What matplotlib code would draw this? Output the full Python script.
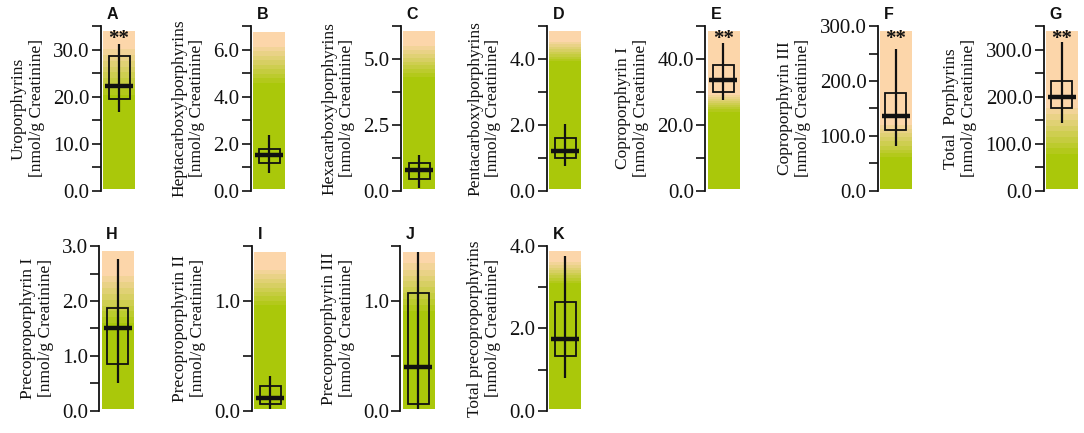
import matplotlib
matplotlib.use("Agg")
import matplotlib.pyplot as plt
import numpy as np
from matplotlib.colors import LinearSegmentedColormap
from matplotlib.patches import Rectangle
from matplotlib.ticker import MultipleLocator, FormatStrFormatter

plt.rcParams['font.family'] = ['Liberation Serif', 'DejaVu Serif']

# panel data
letters = ['A', 'B', 'C', 'D', 'E', 'F', 'G', 'H', 'I', 'J', 'K']
ylabels = ['Uroporphyrins', 'Heptacarboxylporphyrins', 'Hexacarboxylporphyrins',
           'Pentacarboxylporphyrins', 'Coproporphyrin I', 'Coproporphyrin III',
           'Total  Porphyrins', 'Precoproporphyrin I', 'Precoproporphyrin II',
           'Precoproporphyrin III', 'Total precoproporphyrins']
unit = '[nmol/g Creatinine]'
ymax = [35, 7, 6.25, 5, 50, 300, 350, 3, 1.5, 1.5, 4]
major_step = [10, 2, 2.5, 2, 20, 100, 100, 1, 1, 1, 2]

# box statistics
whislo = [16.7, 0.77, 0.09, 0.76, 27.6, 82, 144, 0.50, 0.02, 0.02, 0.80]
q1 = [19.6, 1.17, 0.45, 0.99, 29.9, 111, 177, 0.845, 0.058, 0.058, 1.33]
med = [22.3, 1.51, 0.79, 1.21, 33.7, 137, 198.5, 1.50, 0.113, 0.40, 1.74]
q3 = [28.7, 1.76, 1.05, 1.60, 38.3, 179, 234, 1.875, 0.227, 1.073, 2.65]
whishi = [31.2, 2.37, 1.34, 2.02, 44.9, 259, 316, 2.76, 0.315, 1.445, 3.76]
signif = ['**', '', '', '', '**', '**', '**', '', '', '', '']

# reference range bar: top, end of plain green, start of plain orange
band_top = [33.9, 6.75, 6.05, 4.83, 48.3, 290, 338, 2.90, 1.445, 1.445, 3.86]
green_to = [19.0, 4.38, 4.14, 3.83, 23.1, 50, 62, 1.47, 0.915, 0.85, 3.01]
orange_from = [30.0, 6.14, 5.47, 4.5, 28.7, 117, 172, 2.44, 1.28, 1.34, 3.58]

# layout in pixels (left spine x, bottom y from top of image)
W, H = 1084, 433
spine_x = [100.7, 250.7, 400.7, 546.7, 705, 877.5, 1043.5, 99.3, 251.7, 400, 546.7]
row_bottom = [190.7] * 7 + [410.7] * 4
ax_h = 164.5
ax_w = 34

cmap = LinearSegmentedColormap.from_list('ref', ['#aac80a', '#fcd6aa'])
ink = '#111111'

fig = plt.figure(figsize=(W / 100, H / 100), dpi=100)

for i in range(len(letters)):
    ax = fig.add_axes([spine_x[i] / W, (H - row_bottom[i]) / H, ax_w / W, ax_h / H])
    ax.set_xlim(0, 1)
    ax.set_ylim(0, ymax[i])

    # stepped gradient bar
    ys = np.linspace(0, band_top[i], 400)
    t = np.clip((ys - green_to[i]) / (orange_from[i] - green_to[i]), 0, 1)
    t = np.floor(t * 9) / 9
    ax.imshow(t[:, None], cmap=cmap, vmin=0, vmax=1, origin='lower', aspect='auto',
              extent=(0.08, 1.0, 0.01 * ymax[i], band_top[i]),
              interpolation='nearest', zorder=0)

    # box
    c = 0.54
    ax.vlines(c, whislo[i], whishi[i], color=ink, lw=1.6, zorder=3)
    ax.add_patch(Rectangle((c - 0.31, q1[i]), 0.62, q3[i] - q1[i], fill=False,
                           edgecolor=ink, lw=1.3, zorder=3))
    ax.hlines(med[i], c - 0.41, c + 0.41, color=ink, lw=3.2, zorder=4)

    if signif[i]:
        ax.text(c, 0.985, signif[i], transform=ax.transAxes, ha='center', va='top',
                fontsize=15, fontweight='bold', color=ink, zorder=5)

    for s in ['top', 'right', 'bottom']:
        ax.spines[s].set_visible(False)
    ax.spines['left'].set_linewidth(1.3)
    ax.spines['left'].set_color(ink)
    ax.set_xticks([])
    ax.yaxis.set_major_locator(MultipleLocator(major_step[i]))
    ax.yaxis.set_minor_locator(MultipleLocator(major_step[i] / 2))
    ax.yaxis.set_major_formatter(FormatStrFormatter('%.1f'))
    ax.tick_params(axis='y', which='both', length=6.5, width=1.2, color=ink,
                   labelsize=15, pad=1.5, labelcolor=ink)
    ax.set_ylabel(ylabels[i] + '\n' + unit, fontsize=12.5, labelpad=6,
                  linespacing=1.15, color=ink)

    ax.annotate(letters[i], xy=(0.18, 1), xycoords='axes fraction', xytext=(0, 8.5),
                textcoords='offset points', ha='left', va='center',
                family='Liberation Sans', fontweight='bold', fontsize=11.5, color=ink)

fig.savefig('out.png', dpi=100)
